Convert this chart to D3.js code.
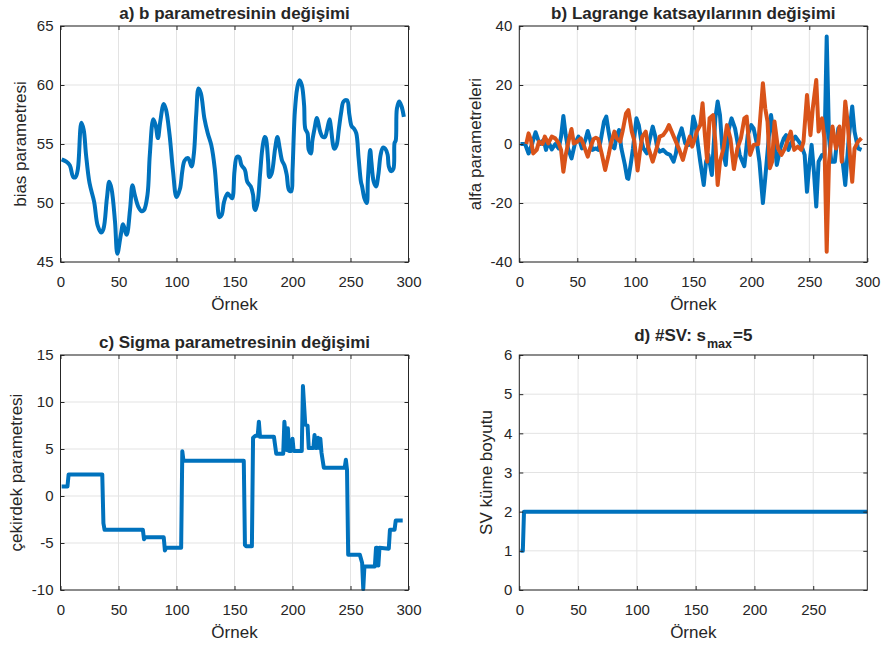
<!DOCTYPE html>
<html>
<head>
<meta charset="utf-8">
<script src="https://cdn.jsdelivr.net/npm/d3@7"></script>
<style>
  html, body { margin: 0; padding: 0; background: #fff; }
  svg { display: block; }
  text { font-family: "Liberation Sans", Arial, Helvetica, sans-serif; fill: #262626; }
</style>
</head>
<body>
<svg id="fig" width="885" height="648"></svg>
<script>
// ---- a) bias parameter b over the samples ----
const biasX = [1,5,8,11,13,15,18,20,22,25,29,32,35,37,40,42,44,47,49,52,54,57,60,62,64,67,70,72,75,77,80,82,84,86,89,91,94,97,100,103,105,107,110,113,115,117,119,121,124,127,130,133,135,137,139,141,144,146,148,150,152,154,156,159,161,164,166,167,168,170,172,174,176,177,179,180,182,185,187,189,191,193,195,197,199,200,202,204,206,208,210,211,213,214,216,217,219,221,222,224,226,228,230,232,233,235,236,238,240,242,244,247,249,251,253,255,257,259,260,262,264,265,267,268,270,272,274,276,278,280,282,283,285,287,288,289,290,292,294,296];
const biasY = [53.7,53.5,53.2,52.2,52.2,52.9,56.8,56.2,54.1,51.7,50.1,48.1,47.5,47.8,50.4,51.8,51.2,48.4,45.7,47.3,48.2,47.3,49.5,51.5,50.7,49.7,49.3,49.4,50.7,54.1,57.1,56.6,55.5,56.9,58.4,57.9,55.8,52.7,50.5,51.2,52.7,53.6,53.8,53.1,54.2,57.5,59.7,59.3,57.2,55.9,54.9,52.9,50.4,48.8,49.0,50.1,50.8,50.6,50.4,52.7,53.9,53.9,53.2,52.8,51.8,51.4,50.7,49.6,49.4,50.1,52.4,54.6,55.6,55.5,53.5,52.2,52.5,54.6,55.6,54.6,53.6,53.2,52.4,51.1,51.0,52.7,57.7,59.7,60.4,60.0,58.3,56.3,55.9,54.5,54.2,55.2,56.3,57.2,56.9,56.0,55.6,55.6,56.3,57.1,56.5,54.9,54.6,54.9,56.3,57.7,58.6,58.7,57.5,56.5,56.3,55.9,53.8,51.8,51.4,50.4,50.0,52.0,54.5,53.5,51.8,51.4,52.4,54.1,54.7,54.6,54.1,53.1,52.7,52.9,55.1,55.3,58.0,58.6,58.2,57.3];

// ---- b) Lagrange multipliers (two alpha series) ----
const alpha1X = [1,5,8,11,14,16,18,21,23,25,28,31,34,36,38,40,42,45,48,51,54,57,59,61,63,66,68,70,73,75,77,79,82,84,86,88,91,93,94,96,98,101,103,105,107,110,112,115,117,119,121,124,127,130,133,135,137,140,143,146,148,150,152,154,156,159,161,163,166,169,171,173,175,178,180,183,186,188,190,194,197,200,202,205,207,210,212,215,217,219,222,225,228,230,232,235,238,240,243,246,248,250,252,254,256,258,261,263,265,267,269,272,275,278,281,284,287,289,292,295];
const alpha1Y = [0,0,-3.2,0,4,1.7,0,1.4,-2,0.8,-1.8,0,-1.5,2.5,9.5,3,-1.5,-4.9,0.2,2.5,-1.5,1.4,4.4,1.7,-2,-1.5,-2,0.8,7.6,9.3,4.2,-0.3,-1.5,3,4.7,-1.5,-7,-11.6,-11.8,-7,-1.5,8.7,6.4,1.4,-1.5,-3.2,0.8,5.9,3,-1.5,-2.6,-2,-3.2,-3.7,-6,-3.2,1.9,5.3,0.2,-0.3,1.9,9.3,6.4,-0.3,-6,-13.9,-6,-3.7,-10.5,8.7,14.4,9.8,-1.5,-7.1,4.2,8.7,5.3,0.8,-3.7,-7.5,3.2,6.4,5.3,-0.3,-6,-20,-11.6,1.9,9.8,4.2,-7.1,-1.5,1.9,3,-2,0.8,2.5,1.4,-0.3,-3.7,-16.2,-7.1,-0.3,-9.4,-21.2,-6,-3.7,-3.7,36.4,1.9,-6,-6,5.3,-3.2,-13.9,1.9,12.7,4.2,-1.5,-2];
const alpha2X = [6,8,10,12,15,17,20,22,25,28,31,34,36,38,40,43,45,47,50,53,55,59,61,64,66,68,71,74,77,79,82,84,87,89,92,94,97,99,102,104,106,109,111,115,118,121,124,127,129,132,135,138,141,144,147,149,151,153,156,158,160,162,164,167,169,171,173,176,179,182,185,188,191,194,196,199,202,206,210,212,214,216,218,220,223,226,229,232,234,237,240,243,245,248,250,251,253,256,258,261,263,265,267,270,273,276,278,281,283,285,287,289,292,295];
const alpha2Y = [0,3.6,1.4,-3.2,-2,0.8,0,2.5,0.2,2.5,1.9,0.2,-2,-9.4,-3.7,1.9,5.1,0.2,0.8,1.9,0.2,-4.3,-1.5,1.7,2.1,1.7,-3.2,-8.8,-3.7,0.2,4.2,1.9,0.8,4.2,10.4,11.5,4.2,1.4,-9,-2.6,2.5,4.2,-0.9,-6,-2,2.5,3,4.7,6.4,3.6,0.8,-2,-5.4,-0.9,2.5,-0.9,1.4,4.2,6.4,13.8,3,-6,8.7,9.8,0.8,-13.9,-6,-1.5,6.4,1.9,-8.5,-1.5,1.9,8.7,9.3,-3.7,-0.3,0,20.6,12.1,7.6,-8.2,-6,7.6,-1.5,-3.7,-1.5,1.9,4.2,-2,-0.9,-2,0.8,16.6,7.6,3,12.1,21.7,4.2,8.7,1.9,-36.5,-6,5.9,-1.5,5.9,-6,14.4,7.6,-3.7,-12.8,-1.5,0.8,2];

// ---- c) kernel (sigma) parameter ----
const sigmaX = [1,6,7,36,37,38,71,72,73,89,90,91,104,105,106,158,159,160,165,166,168,170,171,172,184,186,192,193,195,196,197,199,200,201,208,209,211,213,214,218,219,220,221,222,223,224,225,227,245,246,247,248,258,260,261,262,271,272,273,274,275,283,284,288,289,295];
const sigmaY = [1,1,2.3,2.3,-2.9,-3.6,-3.6,-4.6,-4.4,-4.4,-5.8,-5.5,-5.5,4.75,3.76,3.76,-5.2,-5.35,-5.35,6.2,6.4,6.4,7.9,6.3,6.3,4.5,4.5,7.9,4.9,7.2,4.8,4.8,6.1,4.8,4.8,11.7,7.6,7.5,5.1,5.1,6.5,5.1,5.1,6.2,5.1,6.1,4.6,3,3,3.85,2.8,-6.24,-6.24,-7.1,-9.9,-7.5,-7.5,-5.5,-5.5,-7.4,-5.5,-5.6,-3.6,-3.6,-2.6,-2.6];

// ---- d) support vector set size ----
const svX = [1, 3, 4, 296];
const svY = [1, 1, 2, 2];

// ---- tick values ----
const ticks300 = [0, 50, 100, 150, 200, 250, 300];
const ticks250 = [0, 50, 100, 150, 200, 250];
const biasTicks = [45, 50, 55, 60, 65];
const alphaTicks = [-40, -20, 0, 20, 40];
const sigmaTicks = [-10, -5, 0, 5, 10, 15];
const svTicks = [0, 1, 2, 3, 4, 5, 6];

const BLUE = "#0072BD", ORANGE = "#D95319";
const svg = d3.select("#fig");

function panel(cfg) {
  const g = svg.append("g");
  const x = d3.scaleLinear().domain(cfg.xDomain).range([cfg.left, cfg.left + cfg.w]);
  const y = d3.scaleLinear().domain(cfg.yDomain).range([cfg.top + cfg.h, cfg.top]);
  const x0 = cfg.left, x1 = cfg.left + cfg.w, y0 = cfg.top, y1 = cfg.top + cfg.h;

  // grid
  const grid = g.append("g").attr("stroke", "#e3e3e3").attr("stroke-width", 1);
  cfg.xTicks.forEach(t => grid.append("line")
    .attr("x1", x(t)).attr("x2", x(t)).attr("y1", y0).attr("y2", y1));
  cfg.yTicks.forEach(t => grid.append("line")
    .attr("x1", x0).attr("x2", x1).attr("y1", y(t)).attr("y2", y(t)));

  // data
  const clipId = "clip" + cfg.id;
  g.append("clipPath").attr("id", clipId).append("rect")
    .attr("x", x0).attr("y", y0 - 2).attr("width", cfg.w).attr("height", cfg.h + 4);
  const lines = g.append("g").attr("clip-path", `url(#${clipId})`);
  cfg.series.forEach(s => {
    const pts = s.xs.map((v, i) => [v, s.ys[i]]);
    const line = d3.line().x(d => x(d[0])).y(d => y(d[1]));
    if (s.curve) line.curve(s.curve);
    lines.append("path").datum(pts)
      .attr("d", line)
      .attr("fill", "none")
      .attr("stroke", s.color)
      .attr("stroke-width", 4)
      .attr("stroke-linejoin", "round")
      .attr("stroke-linecap", "butt");
  });

  // axes (ticks pointing inwards, box on all four sides)
  const fmt = d3.format("d");
  const ax = g.append("g").attr("transform", `translate(0,${y1})`)
    .call(d3.axisBottom(x).tickValues(cfg.xTicks).tickFormat(fmt).tickSizeInner(-4).tickSizeOuter(0).tickPadding(14));
  const ay = g.append("g").attr("transform", `translate(${x0},0)`)
    .call(d3.axisLeft(y).tickValues(cfg.yTicks).tickFormat(fmt).tickSizeInner(-4).tickSizeOuter(0).tickPadding(7));
  const at = g.append("g").attr("transform", `translate(0,${y0})`)
    .call(d3.axisTop(x).tickValues(cfg.xTicks).tickFormat("").tickSizeInner(-4).tickSizeOuter(0));
  const ar = g.append("g").attr("transform", `translate(${x1},0)`)
    .call(d3.axisRight(y).tickValues(cfg.yTicks).tickFormat("").tickSizeInner(-4).tickSizeOuter(0));
  [ax, ay, at, ar].forEach(a => {
    a.selectAll("path.domain").remove();
    a.selectAll(".tick line").attr("stroke", "#262626").attr("stroke-width", 1);
    a.selectAll(".tick text").attr("font-size", 15).attr("fill", "#262626")
      .style("font-family", '"Liberation Sans", Arial, Helvetica, sans-serif');
  });
  ax.selectAll(".tick text").text(d => d < 0 ? "-" + Math.abs(d) : d);
  ay.selectAll(".tick text").text(d => d < 0 ? "-" + Math.abs(d) : d);

  g.append("rect").attr("x", x0).attr("y", y0).attr("width", cfg.w).attr("height", cfg.h)
    .attr("fill", "none").attr("stroke", "#262626").attr("stroke-width", 1);

  // labels
  g.append("text").attr("x", (x0 + x1) / 2).attr("y", y1 + 48)
    .attr("text-anchor", "middle").attr("font-size", 17).text("Örnek");
  g.append("text")
    .attr("transform", `translate(${cfg.ylabelX},${(y0 + y1) / 2}) rotate(-90)`)
    .attr("text-anchor", "middle").attr("font-size", 17).text(cfg.ylabel);

  const title = g.append("text").attr("x", (x0 + x1) / 2).attr("y", cfg.titleY)
    .attr("text-anchor", "middle").attr("font-size", 17).attr("font-weight", "bold");
  cfg.title(title);
}

panel({
  id: "a", left: 60.5, top: 26, w: 348, h: 236,
  xDomain: [0, 300], yDomain: [45, 65], xTicks: ticks300, yTicks: biasTicks,
  series: [{ xs: biasX, ys: biasY, color: BLUE, curve: d3.curveCatmullRom.alpha(0.5) }],
  ylabel: "bias parametresi", ylabelX: 26, titleY: 19,
  title: t => t.text("a) b parametresinin değişimi")
});

panel({
  id: "b", left: 519.3, top: 26, w: 348, h: 236,
  xDomain: [0, 300], yDomain: [-40, 40], xTicks: ticks300, yTicks: alphaTicks,
  series: [{ xs: alpha1X, ys: alpha1Y, color: BLUE }, { xs: alpha2X, ys: alpha2Y, color: ORANGE }],
  ylabel: "alfa parametreleri", ylabelX: 481, titleY: 19,
  title: t => t.text("b) Lagrange katsayılarının değişimi")
});

panel({
  id: "c", left: 60.5, top: 355, w: 348, h: 235,
  xDomain: [0, 300], yDomain: [-10, 15], xTicks: ticks300, yTicks: sigmaTicks,
  series: [{ xs: sigmaX, ys: sigmaY, color: BLUE }],
  ylabel: "çekirdek parametresi", ylabelX: 21.5, titleY: 348,
  title: t => t.text("c) Sigma parametresinin değişimi")
});

panel({
  id: "d", left: 519.3, top: 355, w: 348, h: 235,
  xDomain: [0, 296], yDomain: [0, 6], xTicks: ticks250, yTicks: svTicks,
  series: [{ xs: svX, ys: svY, color: BLUE }],
  ylabel: "SV küme boyutu", ylabelX: 492, titleY: 341,
  title: t => {
    t.append("tspan").text("d) #SV: s");
    t.append("tspan").attr("font-size", 12.5).attr("dy", 7).attr("dx", 1).text("max");
    t.append("tspan").attr("dy", -7).attr("dx", 1).text("=5");
  }
});
</script>
</body>
</html>
